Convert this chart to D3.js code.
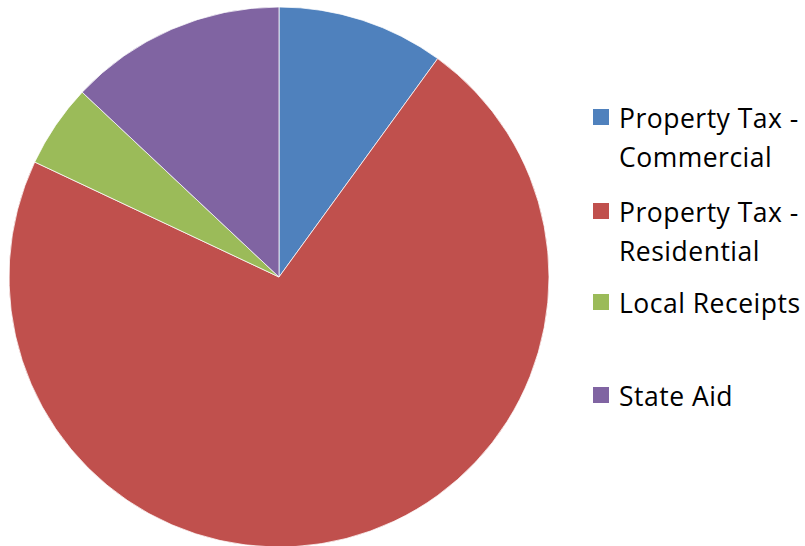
<!DOCTYPE html>
<html>
<head>
<meta charset="utf-8">
<script src="https://cdn.jsdelivr.net/npm/d3@7.8.5/dist/d3.min.js"></script>
<style>
  html, body { margin: 0; padding: 0; background: #fff; }
  svg { display: block; }
</style>
</head>
<body>
<div id="chart"></div>
<script>
// Revenue share by source (percent)
const categories = ['Property Tax - Commercial', 'Property Tax - Residential', 'Local Receipts', 'State Aid'];
const values = [10, 72, 5, 13];
const legendLines = [['Property Tax -', 'Commercial'], ['Property Tax -', 'Residential'], ['Local Receipts'], ['State Aid']];
const colors = ['#4F81BD', '#C0504D', '#9BBB59', '#8064A2'];

const width = 805, height = 546;
const cx = 279, cy = 277, radius = 270;

const svg = d3.select('#chart').append('svg')
    .attr('width', width)
    .attr('height', height);

const color = d3.scaleOrdinal().domain(categories).range(colors);

const pie = d3.pie().sort(null).value(d => d.value);
const arc = d3.arc().innerRadius(0).outerRadius(radius);

const data = categories.map((c, i) => ({ name: c, value: values[i] }));

// Slices
svg.append('g')
    .attr('transform', `translate(${cx},${cy})`)
    .selectAll('path')
    .data(pie(data))
    .enter()
    .append('path')
    .attr('d', arc)
    .style('fill', d => color(d.data.name))
    .style('stroke', '#fff')
    .style('stroke-width', '0.75px');

// Legend
const legendX = 593, textX = 619;
const firstBaseline = [128, 222, 313, 406];
const lineGap = 39;

const item = svg.append('g')
    .selectAll('.legend-item')
    .data(categories)
    .enter()
    .append('g')
    .attr('class', 'legend-item');

item.append('rect')
    .attr('x', legendX)
    .attr('y', (d, i) => firstBaseline[i] - 19)
    .attr('width', 16)
    .attr('height', 16)
    .style('fill', d => color(d));

item.append('text')
    .attr('x', textX)
    .attr('y', (d, i) => firstBaseline[i])
    .style('font-family', '"Open Sans", sans-serif')
    .style('font-size', '26.5px')
    .style('letter-spacing', '0.5px')
    .style('fill', '#000')
    .each(function (d, i) {
        d3.select(this).selectAll('tspan')
            .data(legendLines[i])
            .enter()
            .append('tspan')
            .attr('x', textX)
            .attr('dy', (t, j) => j === 0 ? 0 : lineGap)
            .text(t => t);
    });
</script>
</body>
</html>
